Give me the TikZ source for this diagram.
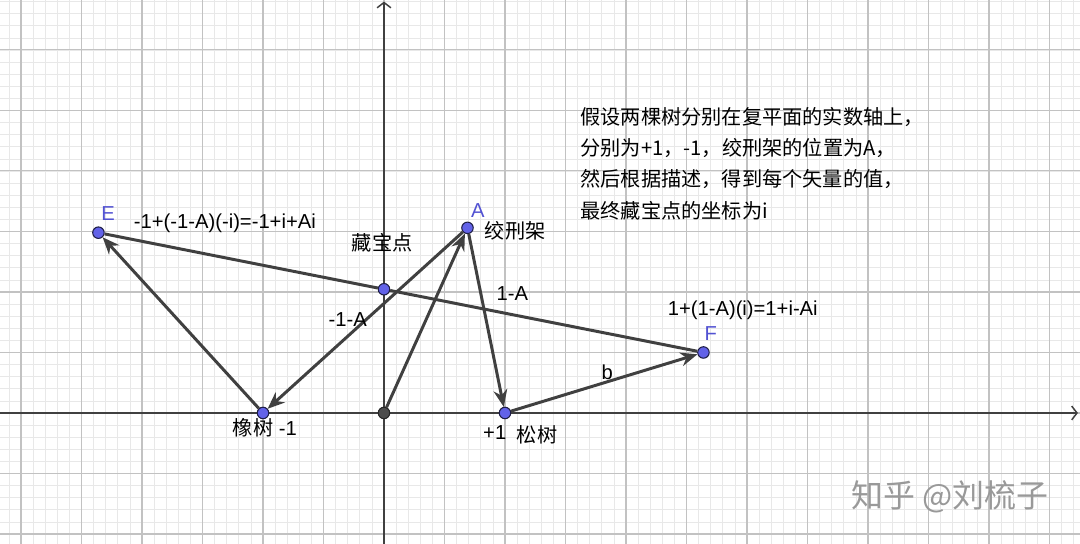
\documentclass[tikz,border=0pt]{standalone}
\usepackage{fontspec}
\setmainfont{Liberation Sans}
\newfontfamily\cjk{Noto Sans CJK SC}
\usetikzlibrary{arrows.meta}

\definecolor{vecgray}{RGB}{64,64,64}
\definecolor{ptblue}{RGB}{98,98,232}
\definecolor{ptedge}{RGB}{30,30,70}
\definecolor{lblblue}{RGB}{82,82,210}

\begin{document}
\begin{tikzpicture}[>={Stealth[length=8pt,width=6.5pt]},
    font=\fontsize{9.5}{14.6}\selectfont,
    pt/.style={circle,draw=ptedge,fill=ptblue,line width=0.5pt,inner sep=0pt,minimum size=5.4pt},
    origin pt/.style={pt,draw=black!85,fill=black!70},
    vec/.style={->,draw=vecgray,line width=1.4pt},
    plain vec/.style={draw=vecgray,line width=1.4pt},
    axis/.style={draw=black!75,line width=0.7pt,-{Straight Barb[length=2.5pt,width=6.5pt]}},
    ptlabel/.style={text=lblblue},
    cn/.style={font=\cjk\fontsize{9.5}{14.6}\selectfont}]

  \useasboundingbox (-6.347,-2.165) rectangle (11.504,6.826);
  \draw[black!9,line width=0.3pt] (-6.347,-2.165) grid[step=0.2] (11.504,6.826);
  \draw[black!24,line width=0.5pt] (-6.347,-2.165) grid[step=1] (11.504,6.826);

  % axes
  \draw[axis] (-6.347,0) -- (11.47,0);
  \draw[axis] (0,-2.165) -- (0,6.80);

  % points
  \node[pt] (E) at (-4.72,2.98) {};
  \node[pt] (A) at (1.38,3.06) {};
  \node[pt] (F) at (5.28,1.00) {};
  \node[pt] (T) at (0,2.045) {};
  \node[pt] (M) at (-2,0) {};
  \node[pt] (P) at (2,0) {};
  \node[origin pt] (O) at (0,0) {};

  \path (E) edge[plain vec] (T)
        (T) edge[plain vec] (F)
        (M) edge[vec] (E)
        (A) edge[vec] (M)
        (O) edge[vec] (A)
        (A) edge[vec] (P)
        (P) edge[vec] (F);

  % labels
  \node[ptlabel] (Elbl) at (-4.56,3.29) {E};
  \node[ptlabel] (Albl) at (1.55,3.34) {A};
  \node[ptlabel] (Flbl) at (5.40,1.32) {F};
  \node (eqE) at (-2.63,3.14) {-1+(-1-A)(-i)=-1+i+Ai};
  \node (eqF) at (5.93,1.69) {1+(1-A)(i)=1+i-Ai};
  \node[cn] (treasure) at (-0.03,2.81) {藏宝点};
  \node[cn] (gallows) at (2.17,3.01) {绞刑架};
  \node (oneA) at (2.12,1.97) {1-A};
  \node (moneA) at (-0.60,1.54) {-1-A};
  \node (b) at (3.69,0.68) {b};
  \node (oak) at (-1.97,-0.25) {{\cjk 橡树} -1};
  \node (plusone) at (1.83,-0.33) {+1};
  \node[cn] (pine) at (2.53,-0.36) {松树};

  \node[cn,anchor=west,align=left,inner sep=0pt] (desc) at (3.24,4.12)
    {假设两棵树分别在复平面的实数轴上，\\分别为+1，-1，绞刑架的位置为A，\\然后根据描述，得到每个矢量的值，\\最终藏宝点的坐标为i};

  \node[font=\cjk\fontsize{15}{15}\selectfont,text=black!40] (mark) at (9.36,-1.39) {知乎 @刘梳子};

\end{tikzpicture}
\end{document}
